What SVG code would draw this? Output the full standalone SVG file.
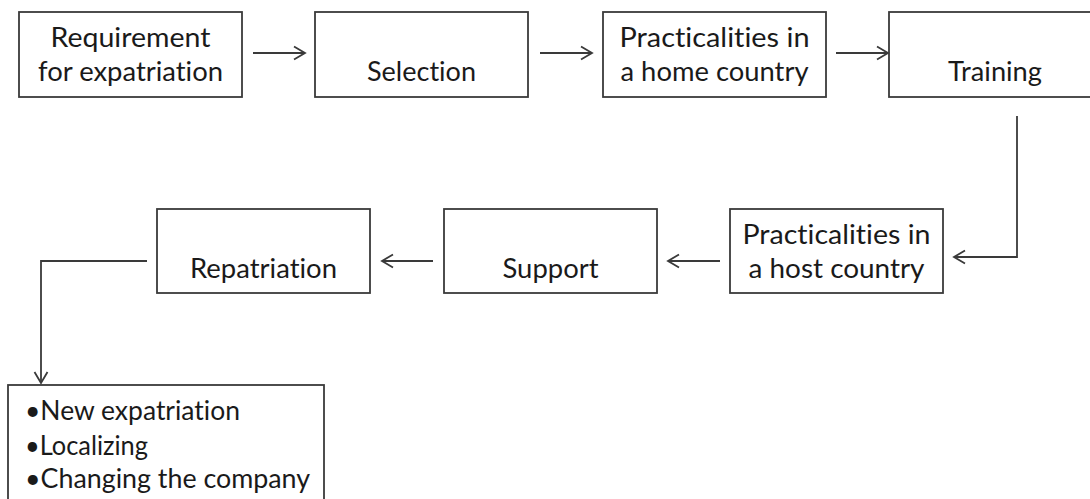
<svg xmlns="http://www.w3.org/2000/svg" width="1090" height="499" viewBox="0 0 1090 499">
<style>
  .box { fill: #ffffff; stroke: #3a3a3a; stroke-width: 1.8; }
  .lbl { font-family: "Lato", "Liberation Sans", sans-serif; font-size: 27px; fill: #1a1a1a; text-anchor: middle; font-variant-ligatures: none; }
  .lst { font-family: "Lato", "Liberation Sans", sans-serif; font-size: 27px; fill: #1a1a1a; font-variant-ligatures: none; }
  .conn { fill: none; stroke: #3a3a3a; stroke-width: 1.8; }
</style>
<defs>
  <marker id="arr" markerUnits="userSpaceOnUse" markerWidth="16" markerHeight="16" refX="13" refY="8" orient="auto">
    <path d="M2,1.5 L13,8 L2,14.5" fill="none" stroke="#3a3a3a" stroke-width="1.8"/>
  </marker>
</defs>
<rect width="1090" height="499" fill="#ffffff"/>

<g id="n1">
  <rect class="box" x="19" y="12" width="223" height="85"/>
  <text class="lbl" x="130.5" y="47" textLength="160" lengthAdjust="spacingAndGlyphs">Requirement</text>
  <text class="lbl" x="130.5" y="81" textLength="185" lengthAdjust="spacingAndGlyphs">for expatriation</text>
</g>
<g id="n2">
  <rect class="box" x="315" y="12" width="213" height="85"/>
  <text class="lbl" x="421.5" y="81" textLength="109" lengthAdjust="spacingAndGlyphs">Selection</text>
</g>
<g id="n3">
  <rect class="box" x="603" y="12" width="223" height="85"/>
  <text class="lbl" x="714.5" y="47" textLength="190" lengthAdjust="spacingAndGlyphs">Practicalities in</text>
  <text class="lbl" x="714.5" y="81" textLength="188" lengthAdjust="spacingAndGlyphs">a home country</text>
</g>
<g id="n4">
  <rect class="box" x="889" y="12" width="215" height="85"/>
  <text class="lbl" x="995" y="81" textLength="94" lengthAdjust="spacingAndGlyphs">Training</text>
</g>
<g id="n5">
  <rect class="box" x="730" y="209" width="213" height="84"/>
  <text class="lbl" x="836.5" y="244" textLength="188" lengthAdjust="spacingAndGlyphs">Practicalities in</text>
  <text class="lbl" x="836.5" y="278" textLength="176" lengthAdjust="spacingAndGlyphs">a host country</text>
</g>
<g id="n6">
  <rect class="box" x="444" y="209" width="213" height="84"/>
  <text class="lbl" x="550.5" y="278" textLength="96" lengthAdjust="spacingAndGlyphs">Support</text>
</g>
<g id="n7">
  <rect class="box" x="157" y="209" width="213" height="84"/>
  <text class="lbl" x="263.5" y="278" textLength="147" lengthAdjust="spacingAndGlyphs">Repatriation</text>
</g>
<g id="n8">
  <rect class="box" x="8" y="385" width="316" height="120"/>
  <text class="lst" x="25" y="420" textLength="215" lengthAdjust="spacingAndGlyphs">•New expatriation</text>
  <text class="lst" x="25" y="455" textLength="123" lengthAdjust="spacingAndGlyphs">•Localizing</text>
  <text class="lst" x="25" y="488" textLength="285" lengthAdjust="spacingAndGlyphs">•Changing the company</text>
</g>

<g id="connectors">
  <line class="conn" x1="253" y1="53" x2="305" y2="53" marker-end="url(#arr)"/>
  <line class="conn" x1="540" y1="53" x2="592" y2="53" marker-end="url(#arr)"/>
  <line class="conn" x1="836" y1="53" x2="888" y2="53" marker-end="url(#arr)"/>
  <polyline class="conn" points="1017,116 1017,257 954,257" marker-end="url(#arr)"/>
  <line class="conn" x1="720" y1="261" x2="668" y2="261" marker-end="url(#arr)"/>
  <line class="conn" x1="433" y1="261" x2="382" y2="261" marker-end="url(#arr)"/>
  <polyline class="conn" points="147,261 41,261 41,383" marker-end="url(#arr)"/>
</g>
</svg>
